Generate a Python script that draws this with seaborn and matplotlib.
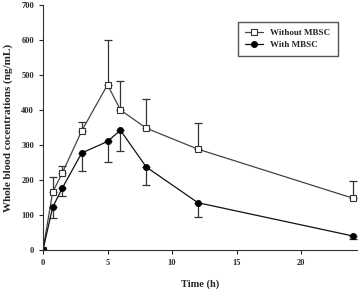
import numpy as np
import pandas as pd
import seaborn as sns
import matplotlib.pyplot as plt

time_h = [0, 0.75, 1.5, 3, 5, 6, 8, 12, 24]
without_mbsc = [0, 165, 220, 340, 472, 400, 348, 288, 148]
without_sd = [0, 43, 20, 25, 128, 84, 82, 74, 48]
with_mbsc = [0, 122, 177, 277, 310, 342, 237, 135, 40]
with_sd = [0, 32, 22, 52, 60, 59, 52, 40, 10]

sns.set_style('ticks')
plt.rcParams['font.family'] = ['Liberation Serif', 'DejaVu Serif']
plt.rcParams['font.weight'] = 'bold'

df = pd.DataFrame({
    'time': time_h * 2,
    'conc': without_mbsc + with_mbsc,
    'group': ['Without MBSC'] * len(time_h) + ['With MBSC'] * len(time_h),
})

fig = plt.figure(figsize=(3.58, 2.9), dpi=100)
ax = fig.add_axes([0.12, 0.138, 0.88, 0.845])

# error bars: upward for without, downward for with
ax.errorbar(time_h, without_mbsc, yerr=[np.zeros(len(time_h)), without_sd], fmt='none',
            ecolor='#333333', elinewidth=0.9, capsize=3, capthick=0.9, zorder=1)
ax.errorbar(time_h, with_mbsc, yerr=[with_sd, np.zeros(len(time_h))], fmt='none',
            ecolor='#333333', elinewidth=0.9, capsize=3, capthick=0.9, zorder=1)

sns.lineplot(data=df, x='time', y='conc', hue='group', style='group',
             palette={'Without MBSC': '#444444', 'With MBSC': '#111111'},
             markers={'Without MBSC': 's', 'With MBSC': 'o'},
             dashes=False, linewidth=0.9, ax=ax, legend=False, zorder=2)
lines = ax.get_lines()[-2:]
lines[0].set_markerfacecolor('white')
lines[0].set_markeredgecolor('#333333')
lines[0].set_markersize(3.8)
lines[0].set_markeredgewidth(0.8)
lines[1].set_markerfacecolor('black')
lines[1].set_markeredgecolor('black')
lines[1].set_markersize(4.5)
lines[1].set_markeredgewidth(0.5)

ax.set_xlim(0, 24.4)
ax.set_ylim(0, 700)
ax.set_xticks([0, 5, 10, 15, 20])
ax.set_yticks(range(0, 701, 100))
ax.tick_params(labelsize=6, length=3, width=0.8, direction='out')
for lab in ax.get_xticklabels() + ax.get_yticklabels():
    lab.set_fontweight('bold')
ax.set_xlabel('Time (h)', fontsize=7.5, fontweight='bold', labelpad=9)
ax.set_ylabel('Whole blood cocentrations (ng/mL)', fontsize=8, fontweight='bold', labelpad=6)
for s in ['left', 'bottom']:
    ax.spines[s].set_linewidth(0.8)
    ax.spines[s].set_color('#333333')
sns.despine(ax=ax)

ax.legend(handles=lines, labels=['Without MBSC', 'With MBSC'], loc='upper right',
          bbox_to_anchor=(0.95, 0.95), fancybox=False, edgecolor='#555555',
          handlelength=2.0, frameon=True, framealpha=1, borderpad=0.8,
          labelspacing=0.35, prop={'weight': 'bold', 'size': 6.5})

fig.savefig('out.png', dpi=100)
